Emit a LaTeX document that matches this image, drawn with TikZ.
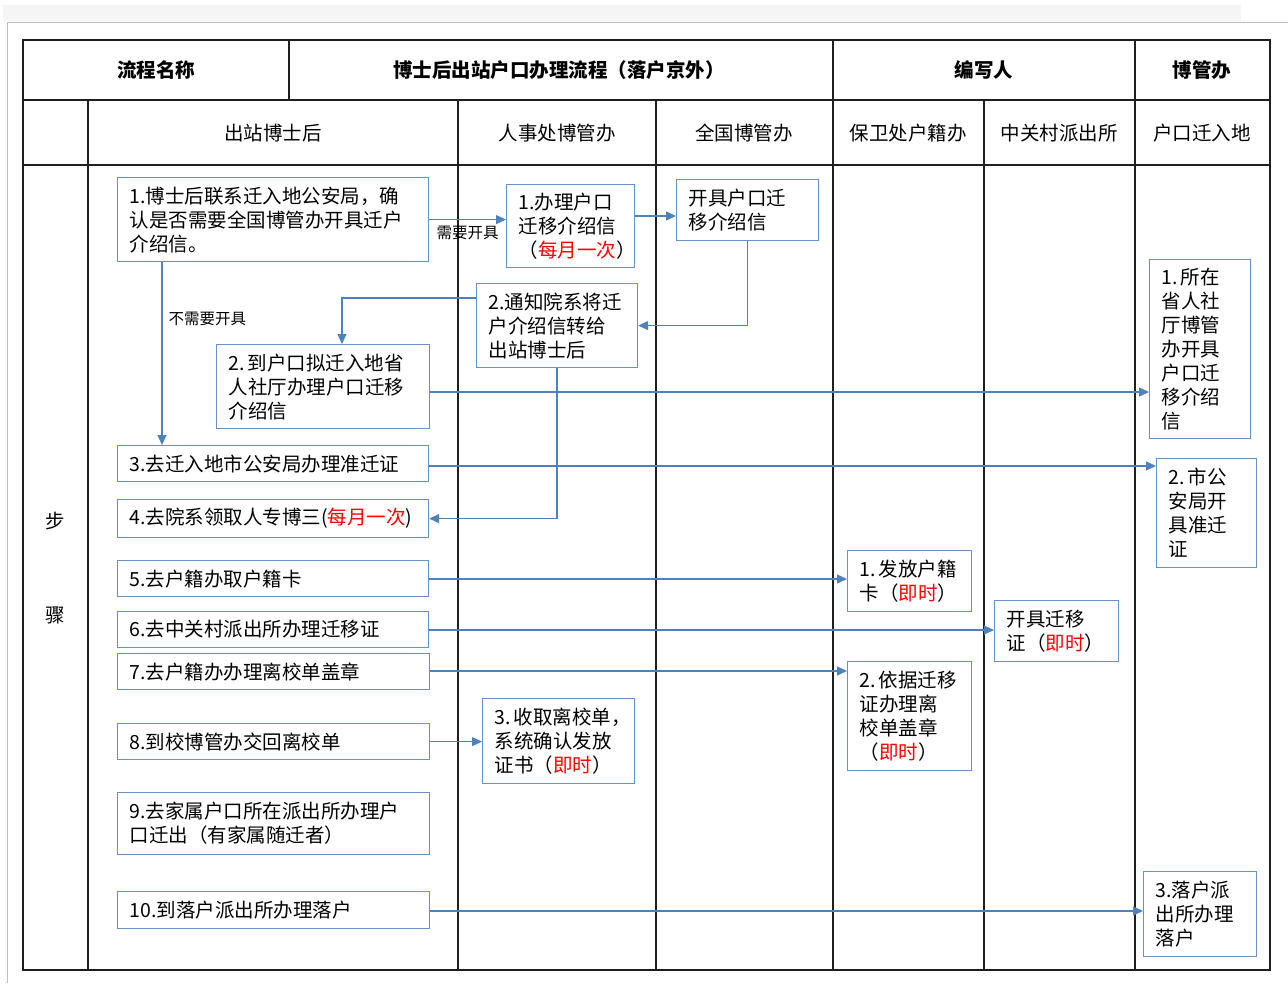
\documentclass[tikz,border=0pt]{standalone}
\usepackage{fontspec}
\setmainfont{Noto Sans CJK SC}
\usetikzlibrary{arrows.meta}
\definecolor{boxc}{RGB}{101,145,205}
\definecolor{arrc}{RGB}{79,129,189}
\definecolor{redc}{RGB}{255,0,0}
\newcommand{\bxfont}{\fontsize{19.5}{24}\selectfont}
\newcommand{\rd}[1]{\textcolor{redc}{#1}}
\newcommand{\gapsp}{\nobreak\kern3pt\nobreak}
\begin{document}
\begin{tikzpicture}[x=1pt,y=-1pt,
  bx/.style={draw=boxc, line width=1.2pt, anchor=north west, align=left, inner xsep=12pt, inner ysep=0pt, font=\bxfont},
  arr/.style={draw=arrc, line width=1.3pt, -{Triangle[length=10pt,width=9pt]}},
  grid/.style={draw=black!88, line width=1.6pt},
  hd/.style={font=\bxfont\bfseries},
  sh/.style={font=\bxfont},
  lbl/.style={font=\fontsize{15.5}{18}\selectfont, inner sep=2pt}]
\useasboundingbox (0,0) rectangle (1288,983);
% page frame
\fill[black!4] (3,5) rectangle (1241,21);
\draw[black!25, line width=1pt] (7,983) -- (7,22) -- (1288,22);
% table
\draw[grid] (23,40) rectangle (1270,970);
\draw[grid] (23,100) -- (1270,100);
\draw[grid] (23,165) -- (1270,165);
\foreach \xx in {289,833,1135} \draw[grid] (\xx,40) -- (\xx,100);
\foreach \xx in {88,458,656,833,984,1135} \draw[grid] (\xx,100) -- (\xx,970);
% header
\node[hd] (h1) at (156,70) {流程名称};
\node[hd] (h2) at (559,70) {博士后出站户口办理流程（落户京外）};
\node[hd] (h3) at (984,70) {编写人};
\node[hd] (h4) at (1202,70) {博管办};
\node[sh] (s1) at (273,133) {出站博士后};
\node[sh] (s2) at (557,133) {人事处博管办};
\node[sh] (s3) at (744,133) {全国博管办};
\node[sh] (s4) at (908,133) {保卫处户籍办};
\node[sh] (s5) at (1059,133) {中关村派出所};
\node[sh] (s6) at (1202,133) {户口迁入地};
\node[sh] (bu) at (55,521) {步};
\node[sh] (zh) at (55,615) {骤};
% boxes
\node[bx, text width=287pt, minimum height=84pt] (B1) at (117,177) {1.博士后联系迁入地公安局，确\\认是否需要全国博管办开具迁户\\介绍信。};
\node[bx, text width=104pt, minimum height=83pt] (R1) at (506,184) {1.办理户口\\迁移介绍信\\（\rd{每月一次}）};
\node[bx, text width=118pt, minimum height=61pt] (Q1) at (676,179) {开具户口迁\\移介绍信};
\node[bx, text width=137pt, minimum height=84pt] (R2) at (476,283) {2.通知院系将迁\\户介绍信转给\\出站博士后};
\node[bx, text width=189pt, minimum height=84pt] (B2) at (216,344) {2.\gapsp 到户口拟迁入地省\\人社厅办理户口迁移\\介绍信};
\node[bx, text width=287pt, minimum height=36pt] (B3) at (117,445) {3.去迁入地市公安局办理准迁证};
\node[bx, text width=287pt, minimum height=38pt] (B4) at (117,499) {4.去院系领取人专博三(\rd{每月一次})};
\node[bx, text width=287pt, minimum height=36pt] (B5) at (117,560) {5.去户籍办取户籍卡};
\node[bx, text width=287pt, minimum height=36pt] (B6) at (117,611) {6.去中关村派出所办理迁移证};
\node[bx, text width=288pt, minimum height=36pt] (B7) at (117,653) {7.去户籍办办理离校单盖章};
\node[bx, text width=288pt, minimum height=36pt] (B8) at (117,723) {8.到校博管办交回离校单};
\node[bx, text width=288pt, minimum height=62pt] (B9) at (117,792) {9.去家属户口所在派出所办理户\\口迁出（有家属随迁者）};
\node[bx, text width=288pt, minimum height=37pt] (B10) at (117,891) {10.到落户派出所办理落户};
\node[bx, text width=128pt, minimum height=85pt] (R3) at (482,698) {3.\gapsp 收取离校单，\\系统确认发放\\证书（\rd{即时}）};
\node[bx, text width=100pt, minimum height=61pt] (H1) at (847,550) {1.\gapsp 发放户籍\\卡（\rd{即时}）};
\node[bx, text width=100pt, minimum height=109pt] (H2) at (847,661) {2.\gapsp 依据迁移\\证办理离\\校单盖章\\（\rd{即时}）};
\node[bx, text width=100pt, minimum height=61pt] (Z1) at (994,600) {开具迁移\\证（\rd{即时}）};
\node[bx, text width=77pt, minimum height=179pt] (D1) at (1149,259) {1.\gapsp 所在\\省人社\\厅博管\\办开具\\户口迁\\移介绍\\信};
\node[bx, text width=76pt, minimum height=109pt] (D2) at (1156,458) {2.\gapsp 市公\\安局开\\具准迁\\证};
\node[bx, text width=89pt, minimum height=85pt] (D3) at (1143,871) {3.落户派\\出所办理\\落户};
% helper coordinates
\coordinate (y216) at (0,216);
\coordinate (y298) at (0,298);
\coordinate (y392) at (0,392);
\coordinate (y466) at (0,466);
\coordinate (y579) at (0,579);
\coordinate (y630) at (0,630);
\coordinate (y671) at (0,671);
\coordinate (y911) at (0,911);
\coordinate (x162) at (162,0);
\coordinate (x342) at (342,0);
% connectors
\draw[arr] (B1.east) -- node[lbl, below, yshift=-4pt] (l1) {需要开具} (B1.east -| R1.west);
\draw[arr] (R1.east |- y216) -- (Q1.west |- y216);
\draw[arr] (Q1.south) |- (R2.east);
\draw[arr] (R2.west |- y298) -| (x342 |- B2.north);
\draw[arr] (x162 |- B1.south) -- node[lbl, right, pos=0.31, xshift=4pt] (l2) {不需要开具} (x162 |- B3.north);
\draw[arr] (R2.south) |- (B4.east);
\draw[arr] (B2.east |- y392) -- (D1.west |- y392);
\draw[arr] (B3.east |- y466) -- (D2.west |- y466);
\draw[arr] (B5.east |- y579) -- (H1.west |- y579);
\draw[arr] (B6.east |- y630) -- (Z1.west |- y630);
\draw[arr] (B7.east |- y671) -- (H2.west |- y671);
\draw[arr] (B8.east) -- (B8.east -| R3.west);
\draw[arr] (B10.east |- y911) -- (D3.west |- y911);
\end{tikzpicture}
\end{document}
